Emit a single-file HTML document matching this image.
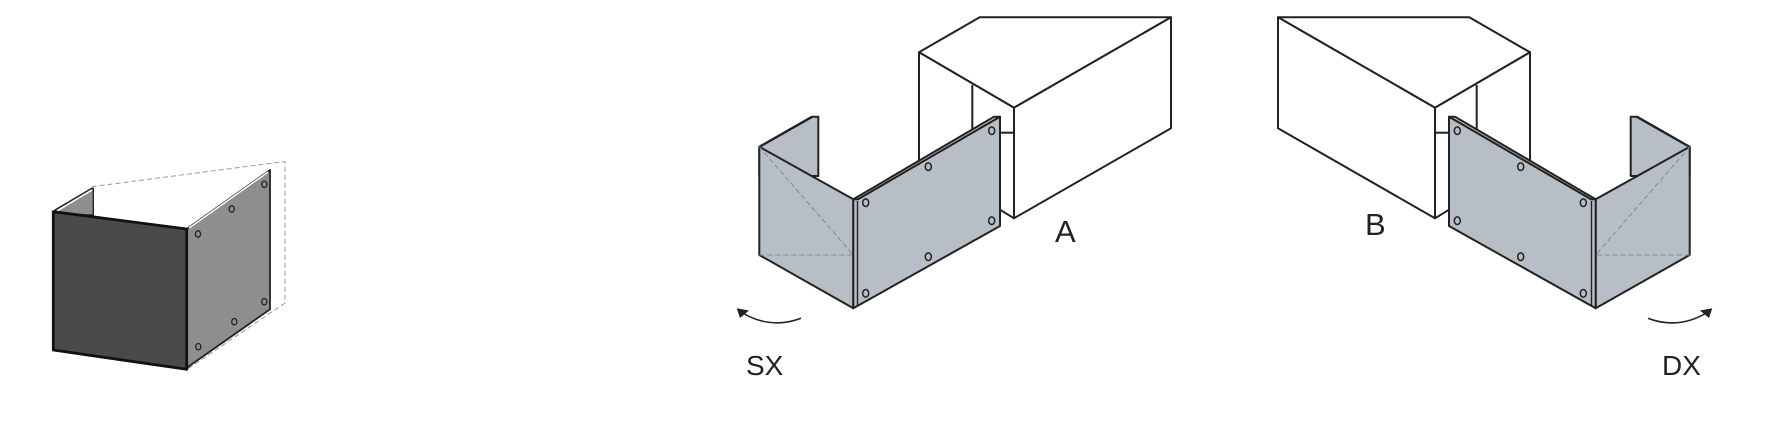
<!DOCTYPE html>
<html><head><style>
html,body{margin:0;padding:0;background:#fff;}
svg{display:block;}
text{font-family:"Liberation Sans",sans-serif;fill:#222;}
</style></head><body>
<svg width="1767" height="427" viewBox="0 0 1767 427" xmlns="http://www.w3.org/2000/svg">
<defs>
<g id="fig">
  <g fill="#fff" stroke="#222" stroke-width="2" stroke-linejoin="round">
    <polygon points="919,52.3 979.7,17.3 1171,17.3 1014,107.7"/>
    <polygon points="1014,107.7 1171,17.3 1171,128.3 1014,218.3"/>
    <polygon points="919,52.3 1014,107.7 1014,218.3 919,160"/>
    <line x1="972.3" y1="85" x2="972.3" y2="160"/>
    <line x1="1000" y1="132.7" x2="1014" y2="132.7"/>
  </g>
  <g stroke="#222" stroke-width="2" stroke-linejoin="round">
    <polygon points="759.3,146.7 811.7,116.7 818.3,116.7 818.3,176 759.3,176" fill="#b8bec6"/>
    <polygon points="759.3,146.7 853.3,199.3 853.3,308.3 759.3,255" fill="#b8bec6"/>
    <polygon points="853.3,199.3 1000,116.7 1000,226 853.3,308.3" fill="#b8bec6"/>
    <polygon points="853.3,199.3 994,116.7 1000,116.7 858,199.3" fill="#b8bec6"/>
    <line x1="857.5" y1="201" x2="857.5" y2="306" stroke-width="1.4"/>
    <line x1="762" y1="146" x2="813" y2="117" stroke-width="1.2"/>
  </g>
  <g stroke="#888" stroke-width="1" stroke-dasharray="5,3" fill="none">
    <line x1="759.3" y1="146.7" x2="853.3" y2="255"/>
    <line x1="759.3" y1="255" x2="853.3" y2="255"/>
  </g>
  <g fill="none" stroke="#222" stroke-width="1.5">
    <ellipse cx="865.7" cy="202.7" rx="3" ry="3.8"/>
    <ellipse cx="928.3" cy="166.7" rx="3" ry="3.8"/>
    <ellipse cx="991.7" cy="130.7" rx="3" ry="3.8"/>
    <ellipse cx="991.7" cy="220.7" rx="3" ry="3.8"/>
    <ellipse cx="928.3" cy="256.7" rx="3" ry="3.8"/>
    <ellipse cx="865.7" cy="293.3" rx="3" ry="3.8"/>
  </g>
  <path d="M801,318.3 Q770,330 741,312" fill="none" stroke="#222" stroke-width="1.6"/>
  <polygon points="736.7,308.3 749,310.5 740,318" fill="#222"/>
</g>
</defs>

<g stroke-linejoin="round">
  <polygon points="55,210 91.7,188.3 93.3,188.3 93.3,215 55,215" fill="#8e8e8e" stroke="#222" stroke-width="1.4"/>
  <line x1="57" y1="211" x2="92" y2="190" stroke="#fff" stroke-width="1.5"/>
  <g stroke="#999" stroke-width="1" stroke-dasharray="5,3" fill="none">
    <polyline points="91.7,186.7 283.3,161.7 285,161.7 285,303 189.3,368"/>
  </g>
  <polygon points="186.7,229 270,170 270,309.3 189.3,366 186.7,369.3" fill="#8e8e8e" stroke="#222" stroke-width="1.8"/>
  <line x1="189" y1="228" x2="268" y2="172" stroke="#fff" stroke-width="1.5"/>
  <polygon points="53.3,211.7 186.7,229 186.7,369.3 53.3,350" fill="#4a4a4a" stroke="#111" stroke-width="2.8"/>
  <g fill="none" stroke="#222" stroke-width="1.3">
    <ellipse cx="198" cy="234" rx="2.6" ry="3.2"/>
    <ellipse cx="231.7" cy="209" rx="2.6" ry="3.2"/>
    <ellipse cx="264.3" cy="184.3" rx="2.6" ry="3.2"/>
    <ellipse cx="264.3" cy="301.7" rx="2.6" ry="3.2"/>
    <ellipse cx="234.3" cy="321.7" rx="2.6" ry="3.2"/>
    <ellipse cx="198.3" cy="346.7" rx="2.6" ry="3.2"/>
  </g>
</g>

<use href="#fig"/>
<use href="#fig" transform="translate(2449,0) scale(-1,1)"/>

<text x="1055" y="242" font-size="31">A</text>
<text x="1365" y="235" font-size="31">B</text>
<text x="746" y="375" font-size="28">SX</text>
<text x="1662" y="375" font-size="28">DX</text>
</svg>
</body></html>
